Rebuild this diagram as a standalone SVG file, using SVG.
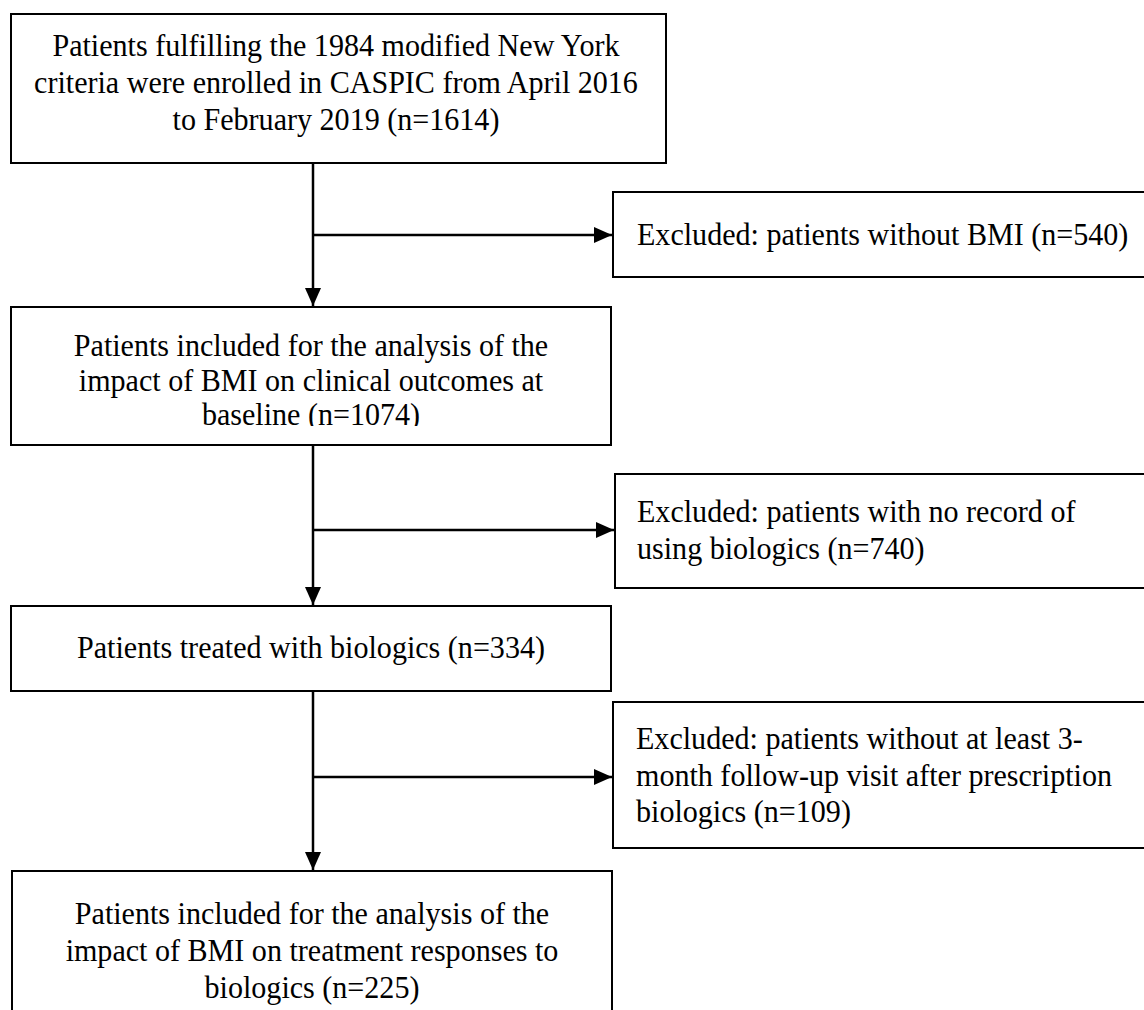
<svg xmlns="http://www.w3.org/2000/svg" width="1144" height="1010" viewBox="0 0 1144 1010">
<style>
.box{fill:#fff;stroke:#000;stroke-width:2}
.t{font-family:"Liberation Serif","Times New Roman",serif;font-size:32px;fill:#000}
.c{text-anchor:middle}
.ln{stroke:#000;stroke-width:2.5;fill:none}
</style>
<defs>
<marker id="ah" markerUnits="userSpaceOnUse" markerWidth="18" markerHeight="16" refX="18" refY="8" orient="auto"><path d="M0,0 L18,8 L0,16 Z" fill="#000"/></marker>
<clipPath id="clip2"><rect x="-400" y="300" width="800" height="126"/></clipPath>
</defs>
<rect width="1144" height="1010" fill="#fff"/>
<g id="connectors">
<path class="ln" d="M313,163 V306" marker-end="url(#ah)"/>
<path class="ln" d="M313,235 H612" marker-end="url(#ah)"/>
<path class="ln" d="M313,445 V605" marker-end="url(#ah)"/>
<path class="ln" d="M313,530 H614" marker-end="url(#ah)"/>
<path class="ln" d="M313,691 V870" marker-end="url(#ah)"/>
<path class="ln" d="M313,777 H612" marker-end="url(#ah)"/>
</g>
<g id="n1">
<rect class="box" x="11" y="14" width="655" height="149"/>
<g transform="translate(336 0) scale(0.94 1)">
<text class="t c" x="0" y="56">Patients fulfilling the 1984 modified New York</text>
<text class="t c" x="0" y="93">criteria were enrolled in CASPIC from April 2016</text>
<text class="t c" x="0" y="130">to February 2019 (n=1614)</text>
</g>
</g>
<g id="e1">
<rect class="box" x="613" y="192" width="540" height="85"/>
<g transform="translate(637 0) scale(0.94 1)">
<text class="t" x="0" y="245">Excluded: patients without BMI (n=540)</text>
</g>
</g>
<g id="n2">
<rect class="box" x="11" y="307" width="600" height="138"/>
<g transform="translate(311 0) scale(0.94 1)">
<g clip-path="url(#clip2)">
<text class="t c" x="0" y="356">Patients included for the analysis of the</text>
<text class="t c" x="0" y="391">impact of BMI on clinical outcomes at</text>
<text class="t c" x="0" y="425">baseline (n=1074)</text>
</g>
</g>
</g>
<g id="e2">
<rect class="box" x="615" y="474" width="540" height="114"/>
<g transform="translate(637 0) scale(0.94 1)">
<text class="t" x="0" y="522">Excluded: patients with no record of</text>
<text class="t" x="0" y="559">using biologics (n=740)</text>
</g>
</g>
<g id="n3">
<rect class="box" x="11" y="606" width="600" height="85"/>
<g transform="translate(311 0) scale(0.94 1)">
<text class="t c" x="0" y="658">Patients treated with biologics (n=334)</text>
</g>
</g>
<g id="e3">
<rect class="box" x="613" y="702" width="540" height="146"/>
<g transform="translate(636 0) scale(0.94 1)">
<text class="t" x="0" y="749">Excluded: patients without at least 3-</text>
<text class="t" x="0" y="786">month follow-up visit after prescription</text>
<text class="t" x="0" y="822">biologics (n=109)</text>
</g>
</g>
<g id="n4">
<rect class="box" x="12" y="871" width="600" height="150"/>
<g transform="translate(312 0) scale(0.94 1)">
<text class="t c" x="0" y="924">Patients included for the analysis of the</text>
<text class="t c" x="0" y="961">impact of BMI on treatment responses to</text>
<text class="t c" x="0" y="998">biologics (n=225)</text>
</g>
</g>
</svg>
